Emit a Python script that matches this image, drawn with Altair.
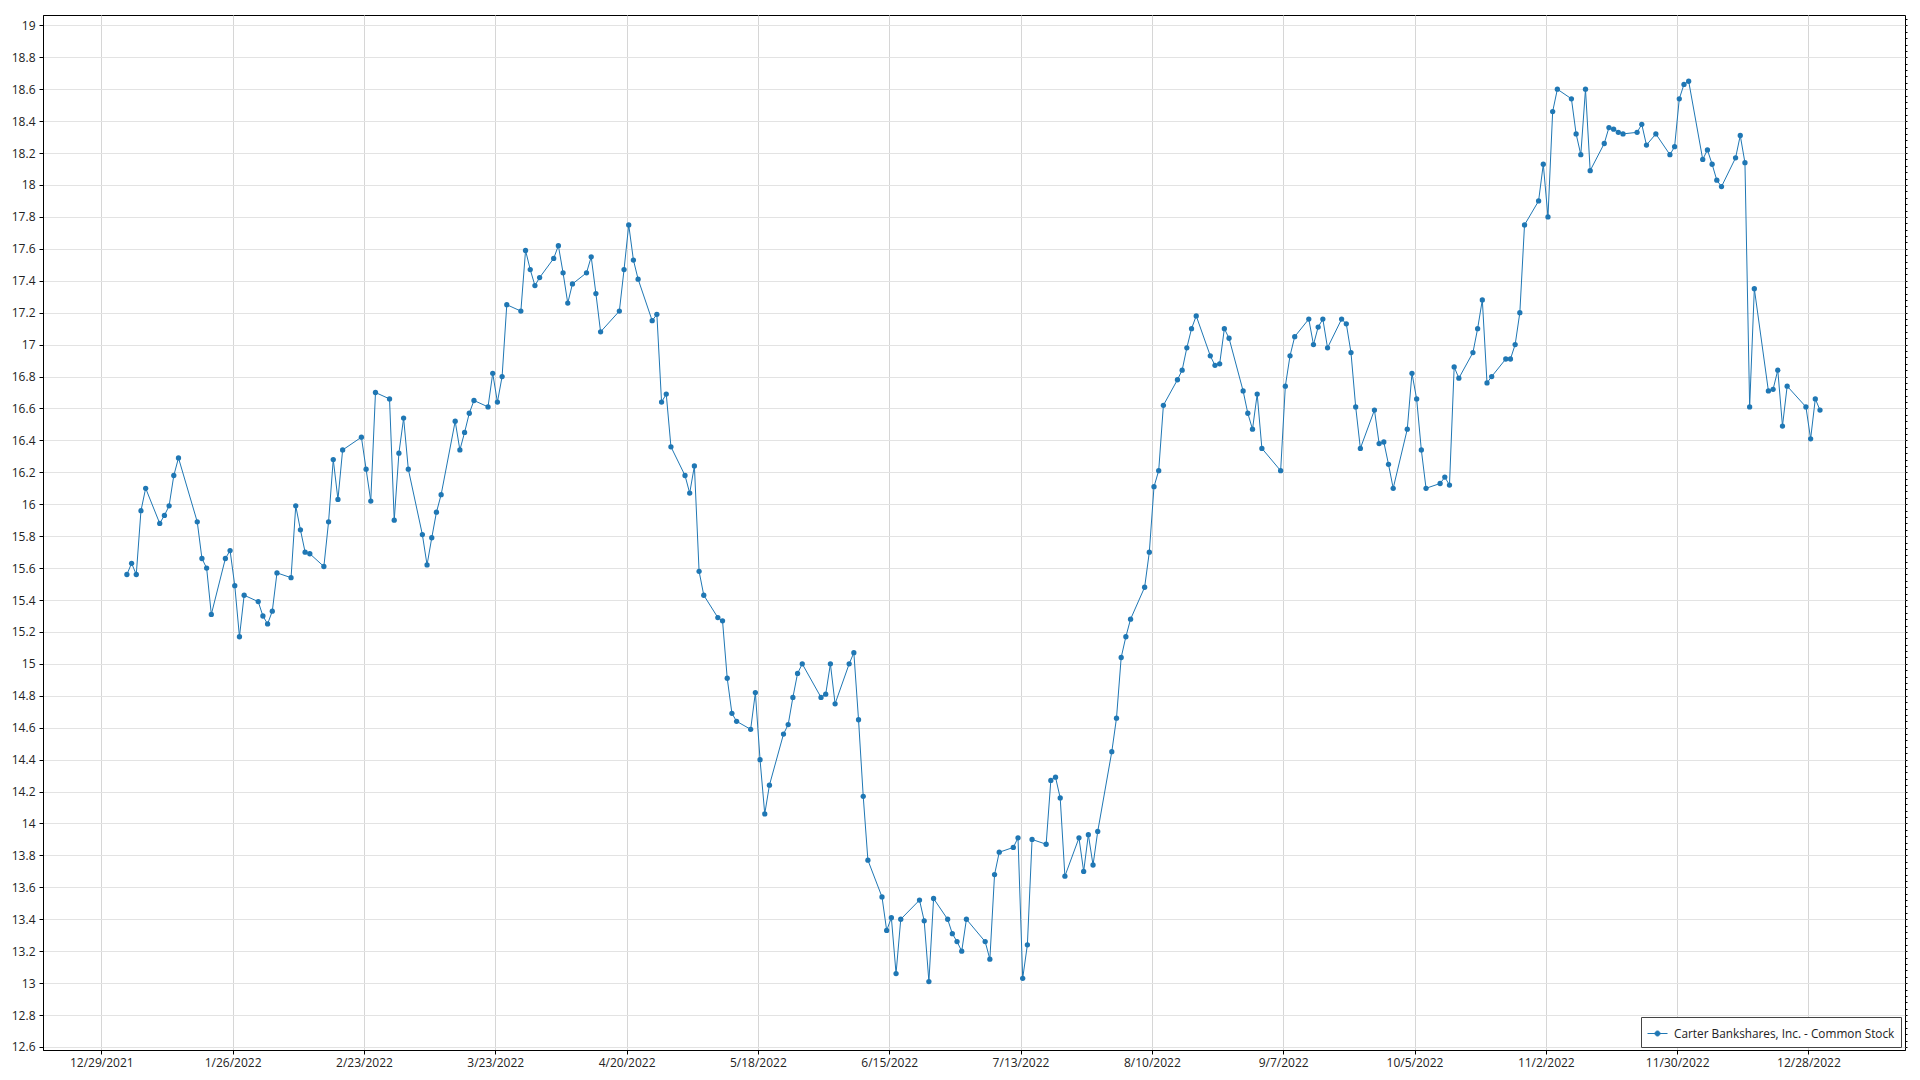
import altair as alt
import pandas as pd

SERIES = "Carter Bankshares, Inc. - Common Stock"

dates = [
    "2022-01-03", "2022-01-04", "2022-01-05", "2022-01-06", "2022-01-07",
    "2022-01-10", "2022-01-11", "2022-01-12", "2022-01-13", "2022-01-14",
    "2022-01-18", "2022-01-19", "2022-01-20", "2022-01-21",
    "2022-01-24", "2022-01-25", "2022-01-26", "2022-01-27", "2022-01-28",
    "2022-01-31", "2022-02-01", "2022-02-02", "2022-02-03", "2022-02-04",
    "2022-02-07", "2022-02-08", "2022-02-09", "2022-02-10", "2022-02-11",
    "2022-02-14", "2022-02-15", "2022-02-16", "2022-02-17", "2022-02-18",
    "2022-02-22", "2022-02-23", "2022-02-24", "2022-02-25",
    "2022-02-28", "2022-03-01", "2022-03-02", "2022-03-03", "2022-03-04",
    "2022-03-07", "2022-03-08", "2022-03-09", "2022-03-10", "2022-03-11",
    "2022-03-14", "2022-03-15", "2022-03-16", "2022-03-17", "2022-03-18",
    "2022-03-21", "2022-03-22", "2022-03-23", "2022-03-24", "2022-03-25",
    "2022-03-28", "2022-03-29", "2022-03-30", "2022-03-31", "2022-04-01",
    "2022-04-04", "2022-04-05", "2022-04-06", "2022-04-07", "2022-04-08",
    "2022-04-11", "2022-04-12", "2022-04-13", "2022-04-14",
    "2022-04-18", "2022-04-19", "2022-04-20", "2022-04-21", "2022-04-22",
    "2022-04-25", "2022-04-26", "2022-04-27", "2022-04-28", "2022-04-29",
    "2022-05-02", "2022-05-03", "2022-05-04", "2022-05-05", "2022-05-06",
    "2022-05-09", "2022-05-10", "2022-05-11", "2022-05-12", "2022-05-13",
    "2022-05-16", "2022-05-17", "2022-05-18", "2022-05-19", "2022-05-20",
    "2022-05-23", "2022-05-24", "2022-05-25", "2022-05-26", "2022-05-27",
    "2022-05-31", "2022-06-01", "2022-06-02", "2022-06-03",
    "2022-06-06", "2022-06-07", "2022-06-08", "2022-06-09", "2022-06-10",
    "2022-06-13", "2022-06-14", "2022-06-15", "2022-06-16", "2022-06-17",
    "2022-06-21", "2022-06-22", "2022-06-23", "2022-06-24",
    "2022-06-27", "2022-06-28", "2022-06-29", "2022-06-30", "2022-07-01",
    "2022-07-05", "2022-07-06", "2022-07-07", "2022-07-08",
    "2022-07-11", "2022-07-12", "2022-07-13", "2022-07-14", "2022-07-15",
    "2022-07-18", "2022-07-19", "2022-07-20", "2022-07-21", "2022-07-22",
    "2022-07-25", "2022-07-26", "2022-07-27", "2022-07-28", "2022-07-29",
    "2022-08-01", "2022-08-02", "2022-08-03", "2022-08-04", "2022-08-05",
    "2022-08-08", "2022-08-09", "2022-08-10", "2022-08-11", "2022-08-12",
    "2022-08-15", "2022-08-16", "2022-08-17", "2022-08-18", "2022-08-19",
    "2022-08-22", "2022-08-23", "2022-08-24", "2022-08-25", "2022-08-26",
    "2022-08-29", "2022-08-30", "2022-08-31", "2022-09-01", "2022-09-02",
    "2022-09-06", "2022-09-07", "2022-09-08", "2022-09-09",
    "2022-09-12", "2022-09-13", "2022-09-14", "2022-09-15", "2022-09-16",
    "2022-09-19", "2022-09-20", "2022-09-21", "2022-09-22", "2022-09-23",
    "2022-09-26", "2022-09-27", "2022-09-28", "2022-09-29", "2022-09-30",
    "2022-10-03", "2022-10-04", "2022-10-05", "2022-10-06", "2022-10-07",
    "2022-10-10", "2022-10-11", "2022-10-12", "2022-10-13", "2022-10-14",
    "2022-10-17", "2022-10-18", "2022-10-19", "2022-10-20", "2022-10-21",
    "2022-10-24", "2022-10-25", "2022-10-26", "2022-10-27", "2022-10-28",
    "2022-10-31", "2022-11-01", "2022-11-02", "2022-11-03", "2022-11-04",
    "2022-11-07", "2022-11-08", "2022-11-09", "2022-11-10", "2022-11-11",
    "2022-11-14", "2022-11-15", "2022-11-16", "2022-11-17", "2022-11-18",
    "2022-11-21", "2022-11-22", "2022-11-23", "2022-11-25",
    "2022-11-28", "2022-11-29", "2022-11-30", "2022-12-01", "2022-12-02",
    "2022-12-05", "2022-12-06", "2022-12-07", "2022-12-08", "2022-12-09",
    "2022-12-12", "2022-12-13", "2022-12-14", "2022-12-15", "2022-12-16",
    "2022-12-19", "2022-12-20", "2022-12-21", "2022-12-22", "2022-12-23",
    "2022-12-27", "2022-12-28", "2022-12-29", "2022-12-30",
]

prices = [
    15.56, 15.63, 15.56, 15.96, 16.10,
    15.88, 15.93, 15.99, 16.18, 16.29,
    15.89, 15.66, 15.60, 15.31,
    15.66, 15.71, 15.49, 15.17, 15.43,
    15.39, 15.30, 15.25, 15.33, 15.57,
    15.54, 15.99, 15.84, 15.70, 15.69,
    15.61, 15.89, 16.28, 16.03, 16.34,
    16.42, 16.22, 16.02, 16.70,
    16.66, 15.90, 16.32, 16.54, 16.22,
    15.81, 15.62, 15.79, 15.95, 16.06,
    16.52, 16.34, 16.45, 16.57, 16.65,
    16.61, 16.82, 16.64, 16.80, 17.25,
    17.21, 17.59, 17.47, 17.37, 17.42,
    17.54, 17.62, 17.45, 17.26, 17.38,
    17.45, 17.55, 17.32, 17.08,
    17.21, 17.47, 17.75, 17.53, 17.41,
    17.15, 17.19, 16.64, 16.69, 16.36,
    16.18, 16.07, 16.24, 15.58, 15.43,
    15.29, 15.27, 14.91, 14.69, 14.64,
    14.59, 14.82, 14.40, 14.06, 14.24,
    14.56, 14.62, 14.79, 14.94, 15.00,
    14.79, 14.81, 15.00, 14.75,
    15.00, 15.07, 14.65, 14.17, 13.77,
    13.54, 13.33, 13.41, 13.06, 13.40,
    13.52, 13.39, 13.01, 13.53,
    13.40, 13.31, 13.26, 13.20, 13.40,
    13.26, 13.15, 13.68, 13.82,
    13.85, 13.91, 13.03, 13.24, 13.90,
    13.87, 14.27, 14.29, 14.16, 13.67,
    13.91, 13.70, 13.93, 13.74, 13.95,
    14.45, 14.66, 15.04, 15.17, 15.28,
    15.48, 15.70, 16.11, 16.21, 16.62,
    16.78, 16.84, 16.98, 17.10, 17.18,
    16.93, 16.87, 16.88, 17.10, 17.04,
    16.71, 16.57, 16.47, 16.69, 16.35,
    16.21, 16.74, 16.93, 17.05,
    17.16, 17.00, 17.11, 17.16, 16.98,
    17.16, 17.13, 16.95, 16.61, 16.35,
    16.59, 16.38, 16.39, 16.25, 16.10,
    16.47, 16.82, 16.66, 16.34, 16.10,
    16.13, 16.17, 16.12, 16.86, 16.79,
    16.95, 17.10, 17.28, 16.76, 16.80,
    16.91, 16.91, 17.00, 17.20, 17.75,
    17.90, 18.13, 17.80, 18.46, 18.60,
    18.54, 18.32, 18.19, 18.60, 18.09,
    18.26, 18.36, 18.35, 18.33, 18.32,
    18.33, 18.38, 18.25, 18.32,
    18.19, 18.24, 18.54, 18.63, 18.65,
    18.16, 18.22, 18.13, 18.03, 17.99,
    18.17, 18.31, 18.14, 16.61, 17.35,
    16.71, 16.72, 16.84, 16.49, 16.74,
    16.61, 16.41, 16.66, 16.59,
]

# x tick dates (every 28 days) and y tick values
x_ticks = [
    (2021, 12, 29), (2022, 1, 26), (2022, 2, 23), (2022, 3, 23), (2022, 4, 20),
    (2022, 5, 18), (2022, 6, 15), (2022, 7, 13), (2022, 8, 10), (2022, 9, 7),
    (2022, 10, 5), (2022, 11, 2), (2022, 11, 30), (2022, 12, 28),
]
y_major = [round(12.6 + 0.2 * i, 1) for i in range(33)]
y_minor = [round(12.6 + 0.04 * i, 2) for i in range(162)]

# the source plots each trading day at late morning (local time)
df = pd.DataFrame({
    "date": [d + "T11:00:00Z" for d in dates],
    "price": prices,
    "series": SERIES,
})

FONT = "Open Sans"
BLUE = "#1f77b4"

x_domain = [
    alt.DateTime(year=2021, month=12, date=16, hours=13, minutes=40, utc=True),
    alt.DateTime(year=2023, month=1, date=17, hours=14, utc=True),
]
x_enc = alt.X(
    "date:T",
    scale=alt.Scale(type="utc", domain=x_domain, nice=False),
    axis=alt.Axis(
        values=[alt.DateTime(year=y, month=m, date=d, utc=True) for (y, m, d) in x_ticks],
        labelExpr="utcFormat(datum.value, '%-m/%-d/%Y')",
        title=None,
        grid=True,
        gridColor="#d6d6d6",
        tickSize=4,
        labelPadding=3,
    ),
)
y_scale = alt.Scale(domain=[12.581, 19.065], nice=False, zero=False)

color_enc = alt.Color(
    "series:N",
    scale=alt.Scale(range=[BLUE]),
    legend=alt.Legend(
        title=None,
        orient="none",
        legendX=1598,
        legendY=1002,
        direction="vertical",
        fillColor="white",
        strokeColor="#444444",
        padding=6,
        labelFont=FONT,
        labelFontSize=11.8,
        labelColor="#222222",
        labelLimit=500,
        labelOffset=6,
        symbolType="M-1,0L1,0M-0.25,0A0.25,0.25,0,1,1,0.25,0A0.25,0.25,0,1,1,-0.25,0",
        symbolSize=400,
        symbolStrokeWidth=1,
        symbolFillColor=BLUE,
        symbolStrokeColor=BLUE,
    ),
)

base = alt.Chart(df)

line = base.mark_line(strokeWidth=1).encode(
    x=x_enc,
    y=alt.Y(
        "price:Q",
        scale=y_scale,
        axis=alt.Axis(
            values=y_major,
            format="~f",
            title=None,
            grid=True,
            gridColor="#e3e3e3",
            tickSize=4,
            labelPadding=4,
        ),
    ),
    color=color_enc,
)

points = base.mark_point(filled=True, size=28, opacity=1).encode(
    x=x_enc,
    y=alt.Y("price:Q", scale=y_scale, axis=None),
    color=color_enc,
)

minor = base.mark_line(opacity=0).encode(
    x=x_enc,
    y=alt.Y(
        "price:Q",
        scale=y_scale,
        axis=alt.Axis(
            values=y_minor,
            labels=False,
            grid=False,
            domain=False,
            tickSize=2,
            title=None,
        ),
    ),
)

chart = (
    alt.layer(line, points, minor)
    .resolve_scale(y="independent")
    .properties(
        width=1862,
        height=1035,
        autosize=alt.AutoSizeParams(type="none"),
        padding={"left": 35, "top": 7, "right": 7, "bottom": 22},
    )
    .configure_view(stroke="black", strokeWidth=1)
    .configure_axis(
        labelFont=FONT,
        labelFontSize=12,
        labelColor="#222222",
        tickColor="#000000",
        domainColor="#000000",
        gridWidth=1,
    )
)

chart.save("out.html", embed_options={"renderer": "svg", "actions": False})
